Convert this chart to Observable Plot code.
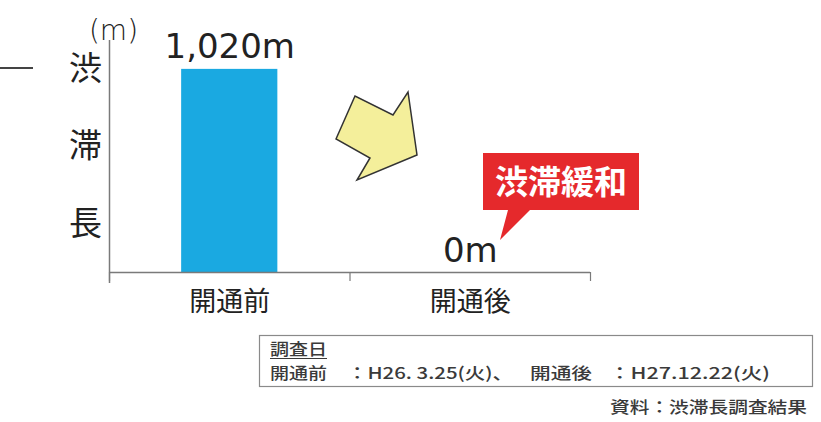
<!DOCTYPE html>
<html><head><meta charset="utf-8">
<script src="https://cdn.jsdelivr.net/npm/d3@7"></script>
<script src="https://cdn.jsdelivr.net/npm/@observablehq/plot@0.6"></script>
<style>
body{margin:0;background:#fff;font-family:"Noto Sans CJK JP",sans-serif;}
#wrap{position:relative;width:821px;height:422px;overflow:hidden;background:#fff;}
#chart{position:absolute;left:0;top:0;}
#overlay{position:absolute;left:0;top:0;pointer-events:none;}
#footer{position:absolute;left:0;top:330px;}
</style></head>
<body><div id="wrap"><div id="chart"></div>
<svg id="overlay" width="821" height="330"></svg>
<svg id="footer" width="821" height="92"></svg>
</div>
<script>
const categories = ["開通前", "開通後"];
const values = [1020, 0];
const valueLabels = ["1,020m", "0m"];
const yLabel = "渋\n滞\n長";
const unitLabel = "(m)";
const calloutText = "渋滞緩和";
const surveyTitle = "調査日";
const surveyBefore = ["開通前", "：H26. 3.25(火)、"];
const surveyAfter = ["開通後", "：H27.12.22(火)"];
const sourceText = "資料：渋滞長調査結果";

const data = categories.map((c, i) => ({c, i, v: values[i], label: valueLabels[i]}));

const chart = Plot.plot({
  width: 821, height: 330,
  marginLeft: 109, marginRight: 231, marginTop: 40, marginBottom: 58,
  style: {fontFamily: "'Noto Sans CJK JP', sans-serif", background: "transparent", color: "#222", overflow: "visible"},
  x: {type: "linear", domain: [0, 2]},
  y: {domain: [0, 1165], axis: null},
  marks: [
    Plot.rectY(data, {x1: d => d.i + 0.3, x2: d => d.i + 0.7, y: "v", fill: "#1aa9e1"}),
    Plot.ruleX([0], {stroke: "#7a7a7a", strokeWidth: 1.5, insetBottom: -11}),
    Plot.ruleY([0], {stroke: "#7a7a7a", strokeWidth: 1.5}),
    Plot.axisX({ticks: [0, 1, 2], tickFormat: () => "", tickSize: 9, stroke: "#7a7a7a", strokeWidth: 1.2}),
    Plot.text(data, {x: d => d.i + 0.5, y: "v", text: "label", dy: -11, lineAnchor: "bottom", fontSize: 34, fontFamily: "DejaVu Sans", fill: "#222"}),
    Plot.text(data, {x: d => d.i + 0.5, y: () => 0, text: "c", dy: 30, lineAnchor: "middle", fontSize: 27, fill: "#222"}),
    Plot.text([yLabel], {frameAnchor: "left", textAnchor: "middle", dx: -24, dy: -24, lineHeight: 2.36, fontSize: 33, fill: "#222"}),
    Plot.text([unitLabel], {frameAnchor: "top-left", textAnchor: "middle", lineAnchor: "middle", dx: 4, dy: -9, fontSize: 28, fontFamily: "DejaVu Sans", fontWeight: 300, fill: "#222"})
  ]
});
document.getElementById("chart").appendChild(chart);

// decorative annotations
const ov = d3.select("#overlay");
ov.append("line").attr("x1", 0).attr("x2", 33).attr("y1", 68).attr("y2", 68).attr("stroke", "#444").attr("stroke-width", 2);
ov.append("polygon")
  .attr("points", "336,139 355,96 393,115 408,92 417,155 357,180 370,158")
  .attr("fill", "#f4ef9b").attr("stroke", "#333").attr("stroke-width", 1.5);
ov.append("path")
  .attr("d", "M483,153 H639 V210 H530 L500,240 L508,210 H483 Z")
  .attr("fill", "#e5292c");
ov.append("text").attr("x", 561).attr("y", 182).attr("dy", "0.36em")
  .attr("text-anchor", "middle").attr("fill", "#fff").attr("font-size", 33).attr("font-weight", 700)
  .attr("font-family", "'Noto Sans CJK JP'").text(calloutText);

// footer (survey dates box + source)
const ft = d3.select("#footer");
ft.append("rect").attr("x", 259.5).attr("y", 5.5).attr("width", 553).attr("height", 51)
  .attr("fill", "#fff").attr("stroke", "#8a8a8a").attr("stroke-width", 1.2);
function ftext(str, x, y, len) {
  ft.append("text").attr("x", x).attr("y", y)
    .attr("textLength", len).attr("lengthAdjust", "spacingAndGlyphs")
    .attr("font-size", 16).attr("font-weight", 500).attr("fill", "#3a3a3a")
    .attr("font-family", "'Noto Sans CJK JP'").text(str);
}
ftext(surveyTitle, 270, 25, 57);
ft.append("line").attr("x1", 270).attr("x2", 327).attr("y1", 28.5).attr("y2", 28.5).attr("stroke", "#3a3a3a").attr("stroke-width", 1.2);
ftext(surveyBefore[0], 270, 49, 57);
ftext(surveyBefore[1], 347, 49, 166);
ftext(surveyAfter[0], 530, 49, 62);
ftext(surveyAfter[1], 609, 49, 161);
ftext(sourceText, 610, 83, 197);
</script></body></html>
